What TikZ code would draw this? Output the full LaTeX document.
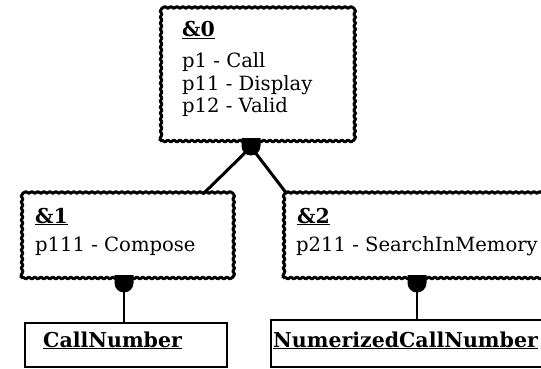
\documentclass[tikz,border=0pt]{standalone}
\usepackage{fontspec}
\setmainfont{DejaVu Serif}
\usetikzlibrary{decorations.pathmorphing,calc}
\begin{document}
\begin{tikzpicture}[x=1pt,y=-1pt,
  wbox/.style={draw, line width=3pt, line join=round, inner sep=0pt, outer sep=0pt,
    decorate, decoration={snake, segment length=6pt, amplitude=0.8pt}},
  pbox/.style={draw, line width=1.3pt, inner sep=0pt, outer sep=0pt},
  txt/.style={anchor=base west, inner sep=0pt, font=\fontsize{19.6}{23}\selectfont},
  hdr/.style={anchor=base west, inner sep=0pt, font=\fontsize{20.5}{23}\selectfont\bfseries},
  link/.style={line width=3pt},
  stem/.style={line width=1.3pt},
  joint/.style={fill=black}]
\useasboundingbox (0,0) rectangle (541,369);
\fill[white] (0,0) rectangle (541,369);
\clip (0,0) rectangle (541,369);

% module boxes with wavy borders (sides are whole multiples of the wave length)
\node[wbox, minimum width=192pt, minimum height=132pt] (b0) at (256,75) {};
\node[wbox, minimum width=210pt, minimum height=84pt, anchor=north west] (b1) at (21,194) {};
\node[wbox, minimum width=300pt, minimum height=84pt, anchor=north west] (b2) at (283,194) {};

% data boxes
\node[pbox, minimum width=202pt, minimum height=44pt, anchor=north west] (c1) at (25,323) {};
\node[pbox, minimum width=300pt, minimum height=47pt, anchor=north west] (c2) at (271,320) {};

% texts
\node[hdr] (h0) at (182,37) {\underline{\&0}};
\node[txt] (t01) at (182,68) {p1 - Call};
\node[txt] (t02) at (182,91) {p11 - Display};
\node[txt] (t03) at (182,113) {p12 - Valid};
\node[hdr] (h1) at (35,223) {\underline{\&1}};
\node[txt] (t11) at (35,251) {p111 - Compose};
\node[hdr] (h2) at (297,223) {\underline{\&2}};
\node[txt] (t21) at (296,251) {p211 - SearchInMemory};
\node[hdr] (n1) at (43,347) {\underline{CallNumber}};
\node[hdr] (n2) at (273,347) {\underline{NumerizedCallNumber}};

% joints on the lower edges
\coordinate (j0) at ($(b0.south)+(-5pt,0)$);
\coordinate (j1) at ($(b1.south west)+(103pt,0)$);
\coordinate (j2) at ($(b2.south west)+(134pt,0)$);
\coordinate (k0) at ($(j0)+(0,-6pt)$);
\foreach \j in {j0,j1,j2}{
  \fill[joint] (\j) ++(-9.5pt,3pt) -- ++(0,-8pt)
    arc[start angle=180, end angle=360, radius=9.5pt] -- ++(0,8pt) -- cycle;
}

% connectors
\draw[link] (k0) -- ($(b1.north west)+(182pt,0)$);
\draw[link] (k0) -- ($(b2.north west)+(4pt,0)$);
\draw[stem] (j1) -- (c1.north -| j1);
\draw[stem] (j2) -- (c2.north -| j2);
\end{tikzpicture}
\end{document}
